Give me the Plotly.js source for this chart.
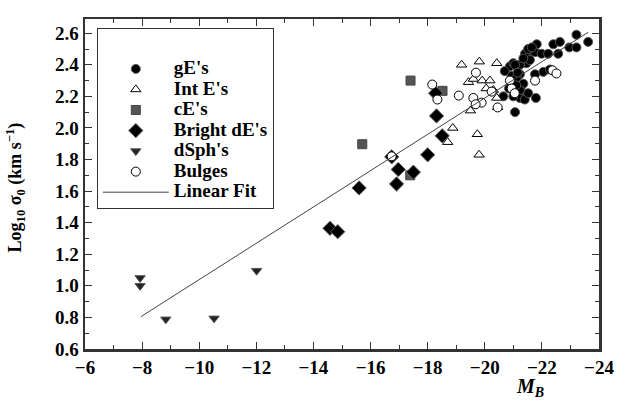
<!DOCTYPE html>
<html>
<head>
<meta charset="utf-8">
<script src="https://cdn.plot.ly/plotly-3.0.1.min.js"></script>
<style>
  body { margin: 0; background: #fff; }
  #chart { width: 626px; height: 410px; }
</style>
</head>
<body>
<div id="chart"></div>
<script>
// gE's : giant ellipticals
var gEX = [-20.65, -21.06, -20.88, -20.94, -21.23, -21.29, -21.29, -21.23, -21.40, -21.46,
           -21.52, -21.52, -21.79, -21.35, -21.76, -22.05, -22.28, -21.00, -21.41, -21.52,
           -21.82, -21.76, -21.58, -21.99, -22.22, -22.57, -22.40, -22.63, -22.96, -23.21,
           -23.21, -23.62, -21.23, -21.06, -21.12, -21.23, -20.85, -21.10, -21.15, -21.35,
           -21.65, -21.00, -20.70];
var gEY = [2.20, 2.10, 2.39, 2.33, 2.34, 2.27, 2.23, 2.19, 2.18, 2.41,
           2.47, 2.22, 2.19, 2.28, 2.34, 2.355, 2.37, 2.41, 2.47, 2.50,
           2.53, 2.48, 2.43, 2.47, 2.47, 2.47, 2.53, 2.545, 2.51, 2.51,
           2.59, 2.545, 2.40, 2.40, 2.32, 2.24, 2.25, 2.27, 2.35, 2.44,
           2.51, 2.20, 2.36];

// Int E's : intermediate ellipticals
var intEX = [-19.19, -19.81, -20.42, -19.43, -19.60, -19.91, -20.18, -20.30, -20.42, -19.50,
             -18.88, -18.70, -19.74, -19.80, -20.45, -20.05];
var intEY = [2.40, 2.42, 2.41, 2.29, 2.31, 2.30, 2.30, 2.24, 2.19, 2.11,
             2.00, 1.91, 1.96, 1.83, 2.13, 2.25];

// cE's : compact ellipticals
var cEX = [-17.40, -18.52, -15.71, -17.39];
var cEY = [2.30, 2.235, 1.897, 1.70];

// Bright dE's
var dEX = [-14.58, -14.85, -15.60, -16.74, -16.91, -16.97, -17.50, -18.00, -18.28, -18.31, -18.51];
var dEY = [1.364, 1.343, 1.62, 1.817, 1.645, 1.737, 1.72, 1.83, 2.22, 2.076, 1.95];

// dSph's
var dSphX = [-7.93, -7.93, -8.83, -10.52, -12.01];
var dSphY = [1.05, 1.00, 0.788, 0.794, 1.096];

// Bulges
var bulgeX = [-16.74, -18.16, -18.34, -19.09, -19.69, -19.60, -19.89, -19.68, -20.24, -20.45,
              -20.88, -20.94, -21.76, -22.37, -22.51, -21.05];
var bulgeY = [1.82, 2.275, 2.18, 2.205, 2.35, 2.19, 2.16, 2.15, 2.23, 2.13,
              2.30, 2.25, 2.30, 2.365, 2.345, 2.22];

// linear fit end points
var fitX = [-7.96, -23.62];
var fitY = [0.805, 2.606];

var serif = 'Liberation Serif, Times New Roman, serif';

// legend label drawn bigger than the legend font, so the rows stay tight
function lbl(s) {
  return '<span style="font-size:19px">' + s + '</span>';
}

function pts(x, y, name, symbol, color, lineColor, size) {
  return {
    x: x, y: y, name: lbl(name), type: 'scatter', mode: 'markers',
    marker: { symbol: symbol, size: size, color: color, line: { color: lineColor, width: 1 } }
  };
}

var data = [
  pts(gEX, gEY, "gE's", 'circle', '#000', '#555', 9),
  pts(intEX, intEY, "Int E's", 'triangle-up', '#fff', '#000', 9),
  pts(cEX, cEY, "cE's", 'square', '#555', '#444', 9),
  pts(dEX, dEY, "Bright dE's", 'diamond', '#000', '#666', 11),
  pts(dSphX, dSphY, "dSph's", 'triangle-down', '#222', '#555', 9),
  pts(bulgeX, bulgeY, 'Bulges', 'circle', '#fff', '#000', 9),
  {
    x: fitX, y: fitY, name: lbl('Linear Fit'), type: 'scatter', mode: 'lines',
    line: { color: '#444', width: 1 }
  }
];

var axisCommon = {
  showgrid: false, zeroline: false,
  showline: true, linecolor: '#333', linewidth: 2.5,
  mirror: 'allticks', ticks: 'inside', ticklen: 7, tickwidth: 1, tickcolor: '#333',
  tickfont: { family: serif, size: 19, color: '#000', weight: 'bold' }
};

var layout = {
  width: 626, height: 410,
  margin: { l: 85, r: 27, t: 19, b: 61 },
  paper_bgcolor: '#fff', plot_bgcolor: '#fff',
  font: { family: serif, color: '#000' },
  showlegend: true,
  legend: {
    x: 0.023, y: 0.973, xanchor: 'left', yanchor: 'top',
    bordercolor: '#333', borderwidth: 1, bgcolor: '#fff',
    font: { family: serif, size: 13.5, color: '#000', weight: 'bold' },
    itemwidth: 66,
    title: { text: ' ', font: { size: 19 } }
  },
  xaxis: Object.assign({}, axisCommon, {
    range: [-6, -24], dtick: 2, tick0: -6,
    minor: { dtick: 1, ticks: 'inside', ticklen: 4, tickcolor: '#333' }
  }),
  yaxis: Object.assign({}, axisCommon, {
    range: [0.6, 2.69], dtick: 0.2, tick0: 0.6, tickformat: '.1f',
    minor: { dtick: 0.1, ticks: 'inside', ticklen: 4, tickcolor: '#333' }
  }),
  annotations: [
    {
      text: '<i>M<sub>B</sub></i>', xref: 'paper', yref: 'paper',
      x: 0.866, y: -0.118, xanchor: 'center', yanchor: 'middle', showarrow: false,
      font: { family: serif, size: 20, color: '#000', weight: 'bold' }
    },
    {
      text: 'Log<sub>10</sub> σ<sub>0</sub> (km s<sup>−1</sup>)', xref: 'paper', yref: 'paper',
      x: -0.136, y: 0.49, xanchor: 'center', yanchor: 'middle', textangle: -90, showarrow: false,
      font: { family: serif, size: 18, color: '#000', weight: 'bold' }
    }
  ]
};

Plotly.newPlot('chart', data, layout, { displayModeBar: false, staticPlot: true });
</script>
</body>
</html>
